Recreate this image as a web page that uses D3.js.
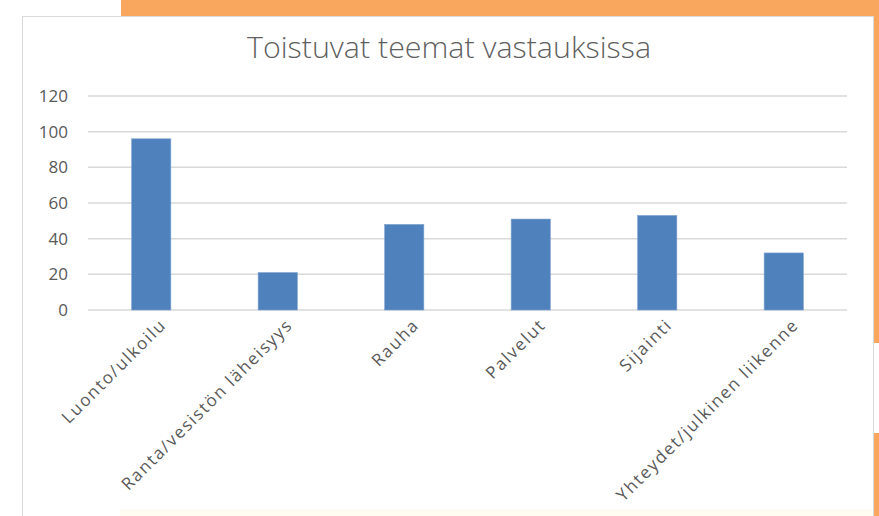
<!DOCTYPE html>
<html>
<head>
<meta charset="utf-8">
<script src="https://cdn.jsdelivr.net/npm/d3@7"></script>
<style>
  body { margin: 0; background: #fff; }
  svg { display: block; }
</style>
</head>
<body>
<svg id="chart" width="879" height="516"></svg>
<script>
// values
var title = "Toistuvat teemat vastauksissa";
var categories = ["Luonto/ulkoilu", "Ranta/vesistön läheisyys", "Rauha", "Palvelut", "Sijainti", "Yhteydet/julkinen liikenne"];
var counts = [96, 21, 48, 51, 53, 32];
var yTicks = [0, 20, 40, 60, 80, 100, 120];

var svg = d3.select("#chart");

// orange slide background bits behind the chart panel
svg.append("rect").attr("x", 121).attr("y", 0).attr("width", 758).attr("height", 343).attr("fill", "#f9a75e");
svg.append("rect").attr("x", 873).attr("y", 433).attr("width", 6).attr("height", 83).attr("fill", "#f9a75e");

// chart panel
svg.append("rect")
  .attr("x", 22.5).attr("y", 16.5)
  .attr("width", 851).attr("height", 520)
  .attr("fill", "#fff")
  .attr("stroke", "#d9d9d9");
svg.append("rect").attr("x", 120).attr("y", 509).attr("width", 753).attr("height", 7).attr("fill", "#fffdf2");

var margin = {left: 88, right: 847, top: 96, bottom: 310};

var x = d3.scaleBand()
  .domain(categories)
  .range([margin.left, margin.right])
  .paddingInner(0.69)
  .paddingOuter(0.345);

var y = d3.scaleLinear()
  .domain([0, 120])
  .range([margin.bottom, margin.top]);

// gridlines
svg.append("g").selectAll("line")
  .data(yTicks)
  .enter().append("line")
  .attr("x1", margin.left).attr("x2", margin.right)
  .attr("y1", function(d) { return y(d); })
  .attr("y2", function(d) { return y(d); })
  .attr("stroke", "#d9d9d9")
  .attr("stroke-width", 1.5);

// y axis labels
var yAxis = d3.axisLeft(y).tickValues(yTicks).tickSize(0).tickPadding(0);
var yg = svg.append("g")
  .attr("transform", "translate(68,0)")
  .call(yAxis);
yg.select(".domain").remove();
yg.selectAll("text")
  .attr("fill", "#595959")
  .style("font-family", "'Open Sans', sans-serif")
  .style("font-size", "17px");

// bars
svg.append("g").selectAll("rect")
  .data(counts)
  .enter().append("rect")
  .attr("x", function(d, i) { return x(categories[i]); })
  .attr("y", function(d) { return y(d); })
  .attr("width", x.bandwidth())
  .attr("height", function(d) { return y(0) - y(d); })
  .attr("fill", "#4f81bd")
  .attr("stroke", "#7fa3d0")
  .attr("stroke-width", 0.6);

// category labels, rotated like excel does it
var xAxis = d3.axisBottom(x).tickSize(0).tickPadding(0);
var xg = svg.append("g")
  .attr("transform", "translate(0," + margin.bottom + ")")
  .call(xAxis);
xg.select(".domain").remove();
xg.selectAll("text")
  .attr("fill", "#595959")
  .style("font-family", "'Open Sans', sans-serif")
  .style("font-size", "17px")
  .style("letter-spacing", "1.7px")
  .attr("text-anchor", "end")
  .attr("dy", null)
  .attr("y", 0)
  .attr("transform", "translate(16,16) rotate(-45)");

// title
svg.append("text")
  .attr("x", 449)
  .attr("y", 58)
  .attr("text-anchor", "middle")
  .attr("fill", "#5f5f5f")
  .style("font-family", "'Open Sans', sans-serif")
  .style("font-size", "30px")
  .style("font-weight", 300)
  .attr("textLength", 404)
  .attr("lengthAdjust", "spacingAndGlyphs")
  .text(title);
</script>
</body>
</html>
